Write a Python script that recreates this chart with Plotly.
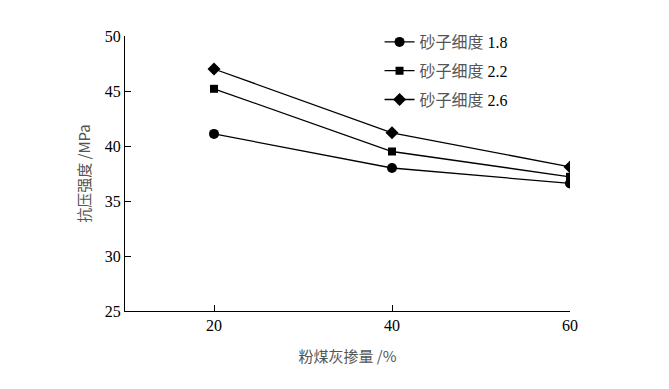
import plotly.graph_objects as go

x_vals = [20, 40, 60]
s18 = [41.1, 38.0, 36.6]
s22 = [45.2, 39.5, 37.2]
s26 = [47.0, 41.2, 38.1]
names = ["1.8", "2.2", "2.6"]
symbols = ["circle", "square", "diamond"]
sizes = [10, 8, 10]

cjk = "Noto Sans CJK SC"
serif = "Liberation Serif"

fig = go.Figure()
for i, (ys, nm, sym, sz) in enumerate(zip([s18, s22, s26], names, symbols, sizes)):
    fig.add_trace(go.Scatter(
        x=x_vals, y=ys, mode="lines+markers",
        name=f'<span style="font-family:{cjk};color:#555">砂子细度</span> {nm}',
        legendgroup=f"g{i}",
        line=dict(color="black", width=1.3),
        marker=dict(symbol=sym, size=sz, color="black"),
    ))

fig.update_layout(
    width=669, height=389,
    margin=dict(l=125, r=99, t=36, b=78),
    plot_bgcolor="white", paper_bgcolor="white",
    showlegend=True,
    legend=dict(x=0.572, y=1.04, xanchor="left", yanchor="top",
                font=dict(family=serif, size=16, color="black"),
                bgcolor="rgba(0,0,0,0)", tracegroupgap=5, itemwidth=30),
    font=dict(family=serif, size=16, color="black"),
)
fig.update_xaxes(
    range=[10, 60], tickvals=[20, 40, 60], ticks="inside", ticklen=6,
    tickcolor="black", showline=True, linecolor="black", linewidth=1.3,
    showgrid=False, zeroline=False, tickfont=dict(family=serif, size=16),
    title=dict(text="粉煤灰掺量 /%", font=dict(family=cjk, size=15, color="#555"), standoff=18),
)
fig.update_yaxes(
    range=[25, 50], tickvals=[25, 30, 35, 40, 45, 50], ticks="inside", ticklen=6,
    tickcolor="black", showline=True, linecolor="black", linewidth=1.3,
    showgrid=False, zeroline=False, tickfont=dict(family=serif, size=16),
    title=dict(text="抗压强度 /MPa", font=dict(family=cjk, size=15, color="#555"), standoff=10),
)
fig.write_html("out.html")
